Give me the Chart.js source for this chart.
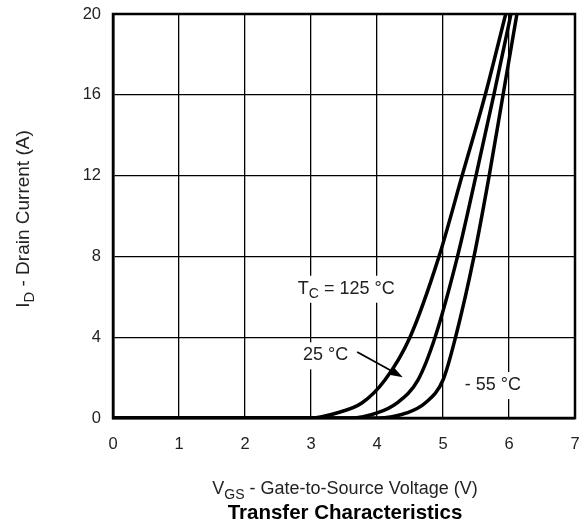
<!DOCTYPE html>
<html>
<head>
<meta charset="utf-8">
<script src="https://cdn.jsdelivr.net/npm/chart.js@4/dist/chart.umd.min.js"></script>
<style>
  html, body { margin: 0; padding: 0; background: #fff; }
  #wrap { width: 584px; height: 529px; }
</style>
</head>
<body>
<div id="wrap"><canvas id="transfer"></canvas></div>
<script>
// drain current levels (A)
var idLevels = [0, 0, 0.25, 0.74, 1.88, 4, 8, 12, 16, 20]
// gate voltage where each curve reaches those levels (V)
var vgs125 = [0, 3.0, 3.39, 3.77, 4.12, 4.5, 4.94, 5.29, 5.64, 5.95]
var vgs25 = [0, 3.6, 4.0, 4.3, 4.62, 4.88, 5.22, 5.5, 5.77, 6.03]
var vgsM55 = [0, 4.0, 4.45, 4.73, 5.0, 5.19, 5.47, 5.7, 5.91, 6.12]

var xTicks = [0, 1, 2, 3, 4, 5, 6, 7]
var yTicks = [0, 4, 8, 12, 16, 20]

var FONT = '"Liberation Sans", Arial, Helvetica, sans-serif'

function pts(xs, ys) {
    return xs.map(function (x, i) { return { x: x, y: ys[i] } })
}

function curve(label, xs) {
    return {
        label: label,
        data: pts(xs, idLevels),
        borderColor: '#000',
        borderWidth: 3.5,
        pointRadius: 0,
        cubicInterpolationMode: 'monotone',
        fill: false
    }
}

// text with subscripts, parts = [[text, isSub], ...]
function textWidth(ctx, parts, size, bold) {
    var w = 0
    parts.forEach(function (p) {
        ctx.font = (bold ? 'bold ' : '') + (p[1] ? size * 0.78 : size) + 'px ' + FONT
        w += ctx.measureText(p[0]).width
    })
    return w
}

function subText(ctx, parts, x, y, size, align, bold) {
    var w = textWidth(ctx, parts, size, bold)
    var cx = align === 'center' ? x - w / 2 : x
    ctx.textAlign = 'left'
    ctx.textBaseline = 'middle'
    parts.forEach(function (p) {
        ctx.font = (bold ? 'bold ' : '') + (p[1] ? size * 0.78 : size) + 'px ' + FONT
        ctx.fillText(p[0], cx, p[1] ? y + size * 0.32 : y)
        cx += ctx.measureText(p[0]).width
    })
}

function label(ctx, sx, sy, parts, vx, vy, size) {
    var x = sx.getPixelForValue(vx), y = sy.getPixelForValue(vy)
    var w = textWidth(ctx, parts, size)
    ctx.fillStyle = '#fff'
    ctx.fillRect(x - 4, y - 13, w + 8, 27)
    ctx.fillStyle = '#222'
    subText(ctx, parts, x, y, size, 'left')
}

// drop the extra room chart.js keeps for the end labels, plot area is set by layout padding
function noPad(s) {
    s.paddingTop = 0; s.paddingBottom = 0; s.paddingLeft = 0; s.paddingRight = 0
}

var decor = {
    id: 'decor',
    afterDatasetsDraw: function (chart) {
        var ctx = chart.ctx, a = chart.chartArea
        var sx = chart.scales.x, sy = chart.scales.y
        ctx.save()
        // frame
        ctx.strokeStyle = '#000'
        ctx.lineWidth = 2.5
        ctx.strokeRect(a.left, a.top, a.right - a.left, a.bottom - a.top)

        label(ctx, sx, sy, [['T', false], ['C', true], [' = 125 \u00b0C', false]], 2.8, 6.4, 18)
        label(ctx, sx, sy, [['25 \u00b0C', false]], 2.88, 3.1, 18)
        label(ctx, sx, sy, [['- 55 \u00b0C', false]], 5.33, 1.63, 18)

        // arrow to the 25 C curve
        var x1 = sx.getPixelForValue(3.7), y1 = sy.getPixelForValue(3.27)
        var x2 = sx.getPixelForValue(4.39), y2 = sy.getPixelForValue(2.02)
        var ang = Math.atan2(y2 - y1, x2 - x1)
        ctx.strokeStyle = '#000'
        ctx.fillStyle = '#000'
        ctx.lineWidth = 1.8
        ctx.beginPath()
        ctx.moveTo(x1, y1)
        ctx.lineTo(x2 - 8 * Math.cos(ang), y2 - 8 * Math.sin(ang))
        ctx.stroke()
        ctx.beginPath()
        ctx.moveTo(x2, y2)
        ctx.lineTo(x2 - 13 * Math.cos(ang) + 4.5 * Math.sin(ang), y2 - 13 * Math.sin(ang) - 4.5 * Math.cos(ang))
        ctx.lineTo(x2 - 13 * Math.cos(ang) - 4.5 * Math.sin(ang), y2 - 13 * Math.sin(ang) + 4.5 * Math.cos(ang))
        ctx.closePath()
        ctx.fill()

        // axis titles and chart title
        ctx.fillStyle = '#222'
        var mid = (a.left + a.right) / 2
        subText(ctx, [['V', false], ['GS', true], [' - Gate-to-Source Voltage (V)', false]], mid + 1, 489, 18, 'center')
        ctx.fillStyle = '#000'
        subText(ctx, [['Transfer Characteristics', false]], mid + 1, 513, 20.5, 'center', true)
        ctx.save()
        ctx.translate(24, 219)
        ctx.rotate(-Math.PI / 2)
        ctx.fillStyle = '#222'
        subText(ctx, [['I', false], ['D', true], [' - Drain Current (A)', false]], 0, 0, 19, 'center')
        ctx.restore()
        ctx.restore()
    }
}

var config = {
    type: 'line',
    data: {
        datasets: [
            curve('125 C', vgs125),
            curve('25 C', vgs25),
            curve('-55 C', vgsM55)
        ]
    },
    options: {
        responsive: true,
        maintainAspectRatio: false,
        animation: false,
        layout: { padding: { top: 14, right: 9, left: 0, bottom: 0 } },
        plugins: { legend: { display: false }, tooltip: { enabled: false } },
        scales: {
            x: {
                type: 'linear', min: 0, max: 7,
                afterBuildTicks: function (s) { s.ticks = xTicks.map(function (v) { return { value: v } }) },
                afterFit: function (s) { s.height = 111; noPad(s) },
                grid: { color: '#000', lineWidth: 1.3, drawTicks: false },
                border: { color: '#000', width: 2.5 },
                ticks: { padding: 17, color: '#222', font: { family: FONT, size: 16.5 } }
            },
            y: {
                type: 'linear', min: 0, max: 20,
                afterBuildTicks: function (s) { s.ticks = yTicks.map(function (v) { return { value: v } }) },
                afterFit: function (s) { s.width = 113; noPad(s) },
                grid: { color: '#000', lineWidth: 1.3, drawTicks: false },
                border: { color: '#000', width: 2.5 },
                ticks: { padding: 12, color: '#222', font: { family: FONT, size: 16.5 } }
            }
        }
    },
    plugins: [decor]
}

var chart = new Chart(document.getElementById('transfer'), config)
</script>
</body>
</html>
